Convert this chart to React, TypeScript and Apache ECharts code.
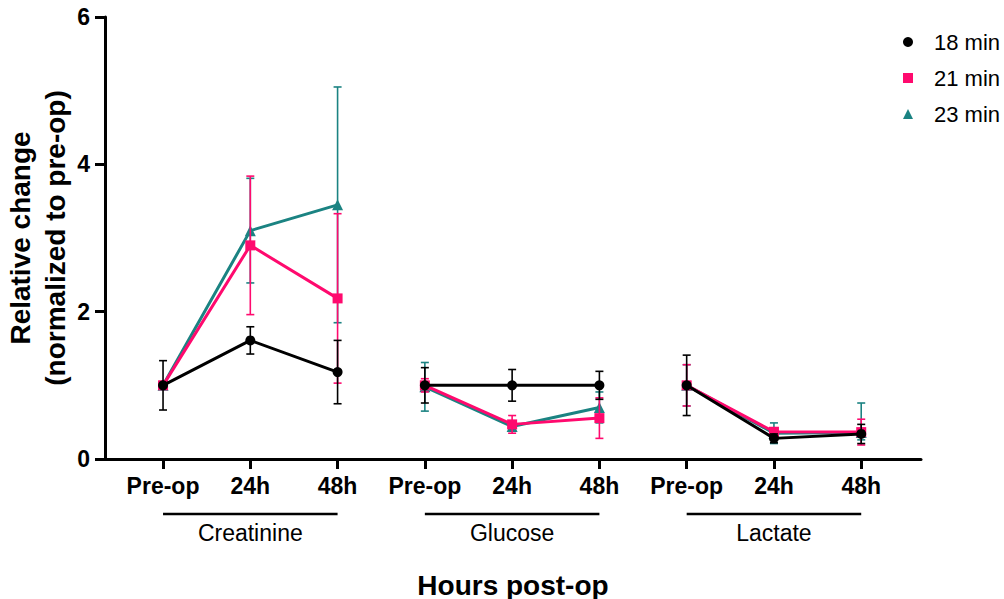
import React, { useEffect, useRef } from "react";
import * as echarts from "echarts";

const xPositions = [0, 1, 2, 3, 4, 5, 6, 7, 8];
const tickLabels = ["Pre-op", "24h", "48h", "Pre-op", "24h", "48h", "Pre-op", "24h", "48h"];
const groupNames = ["Creatinine", "Glucose", "Lactate"];
const groupStart = [0, 3, 6];
const groupEnd = [2, 5, 8];
const yTicks = [0, 2, 4, 6];

const seriesNames = ["18 min", "21 min", "23 min"];
const mean18 = [1.0, 1.61, 1.18, 1.0, 1.0, 1.0, 1.0, 0.28, 0.34];
const errUp18 = [0.335, 0.185, 0.43, 0.24, 0.215, 0.19, 0.41, 0.06, 0.13];
const errDown18 = [0.335, 0.185, 0.43, 0.24, 0.215, 0.19, 0.41, 0.06, 0.13];
const mean21 = [1.0, 2.9, 2.18, 1.0, 0.47, 0.555, 1.0, 0.37, 0.365];
const errUp21 = [0.05, 0.94, 1.15, 0.09, 0.12, 0.275, 0.28, 0.05, 0.175];
const errDown21 = [0.05, 0.94, 1.15, 0.09, 0.12, 0.275, 0.28, 0.05, 0.175];
const mean23 = [1.0, 3.1, 3.45, 0.98, 0.44, 0.7, 1.0, 0.35, 0.36];
const errUp23 = [0.05, 0.71, 1.6, 0.33, 0.05, 0.21, 0.28, 0.14, 0.4];
const errDown23 = [0.05, 0.71, 1.6, 0.33, 0.05, 0.21, 0.28, 0.14, 0.1];

const FONT = "'Liberation Sans', Arial, sans-serif";
const colors = ["#000000", "#FF0A6E", "#1B8382"];
const symbols = ["circle", "rect", "triangle"];
const means = [mean18, mean21, mean23];
const errUps = [errUp18, errUp21, errUp23];
const errDowns = [errDown18, errDown21, errDown23];
const zOrder = [5, 4, 3];

export default function App() {
  const ref = useRef<HTMLDivElement>(null);
  useEffect(() => {
    document.body.style.margin = "0";
    if (!ref.current) return;
    const chart = echarts.init(ref.current, null, { renderer: "svg" });

    const series: any[] = [];
    for (let s = 0; s < 3; s++) {
      series.push({
        type: "custom",
        name: seriesNames[s],
        z: zOrder[s],
        silent: true,
        clip: true,
        data: xPositions.map((x, i) => [x, means[s][i] - errDowns[s][i], means[s][i] + errUps[s][i]]),
        encode: { x: 0, y: [1, 2] },
        renderItem: (params: any, api: any) => {
          const x = api.value(0);
          const lo = api.coord([x, api.value(1)]);
          const hi = api.coord([x, api.value(2)]);
          const st = { stroke: colors[s], lineWidth: 1.6 };
          return {
            type: "group",
            children: [
              { type: "line", shape: { x1: lo[0], y1: lo[1], x2: hi[0], y2: hi[1] }, style: st },
              { type: "line", shape: { x1: hi[0] - 4, y1: hi[1], x2: hi[0] + 4, y2: hi[1] }, style: st },
              { type: "line", shape: { x1: lo[0] - 4, y1: lo[1], x2: lo[0] + 4, y2: lo[1] }, style: st },
            ],
          };
        },
      });
      for (let g = 0; g < 3; g++) {
        const pts: number[][] = [];
        for (let i = groupStart[g]; i <= groupEnd[g]; i++) pts.push([xPositions[i], means[s][i]]);
        series.push({
          type: "line",
          name: seriesNames[s],
          z: zOrder[s] + 0.5,
          data: pts,
          symbol: symbols[s],
          symbolSize: s === 2 ? 11 : 10,
          showSymbol: true,
          lineStyle: { color: colors[s], width: 3 },
          itemStyle: { color: colors[s] },
          emphasis: { disabled: true },
        });
      }
    }

    series.push({
      type: "custom",
      silent: true,
      clip: false,
      data: groupNames.map((n, g) => [groupStart[g], groupEnd[g], 0]),
      encode: { x: [0, 1], y: 2 },
      renderItem: (params: any, api: any) => {
        const a = api.coord([api.value(0), 0]);
        const b = api.coord([api.value(1), 0]);
        const y = a[1] + 55;
        return {
          type: "group",
          children: [
            { type: "line", shape: { x1: a[0], y1: y, x2: b[0], y2: y }, style: { stroke: "#000", lineWidth: 2.5 } },
            {
              type: "text",
              style: {
                text: groupNames[params.dataIndex],
                x: (a[0] + b[0]) / 2,
                y: y + 19,
                align: "center",
                verticalAlign: "middle",
                fontSize: 23,
                fontFamily: FONT,
                fill: "#000",
              },
            },
          ],
        };
      },
    });

    chart.setOption({
      animation: false,
      textStyle: { fontFamily: FONT },
      grid: { left: 105, right: 83, top: 17, bottom: 140, containLabel: false, outerBoundsMode: "none" },
      legend: {
        orient: "vertical",
        left: 898,
        top: 26,
        itemWidth: 10,
        itemHeight: 10,
        itemGap: 14,
        selectedMode: false,
        data: seriesNames.map((n, s) => ({ name: n, icon: symbols[s], itemStyle: { color: colors[s] } })),
        textStyle: { fontSize: 22, lineHeight: 22, color: "#000", fontFamily: FONT, padding: [0, 0, 0, 16] },
      },
      xAxis: {
        type: "value",
        min: -0.665,
        max: 8.685,
        name: "Hours post-op",
        nameLocation: "middle",
        nameGap: 112,
        nameMoveOverlap: false,
        nameTextStyle: { fontSize: 28, fontWeight: "bold", color: "#000", fontFamily: FONT },
        axisLine: { onZero: false, lineStyle: { color: "#000", width: 3 } },
        axisTick: { show: true, length: 10, lineStyle: { color: "#000", width: 3 }, customValues: xPositions },
        axisLabel: {
          customValues: xPositions,
          formatter: (v: number) => tickLabels[Math.round(v)] ?? "",
          fontSize: 23,
          fontWeight: "bold",
          color: "#000",
          margin: 15,
          fontFamily: FONT,
        },
        splitLine: { show: false },
      },
      yAxis: {
        type: "value",
        min: 0,
        max: 6,
        interval: 2,
        name: "Relative change\n(normalized to pre-op)",
        nameLocation: "middle",
        nameGap: 32,
        nameMoveOverlap: false,
        nameTextStyle: { fontSize: 28, fontWeight: "bold", color: "#000", lineHeight: 35, fontFamily: FONT },
        axisLine: { show: true, onZero: false, lineStyle: { color: "#000", width: 3 } },
        axisTick: { show: true, length: 10, lineStyle: { color: "#000", width: 3 } },
        axisLabel: {
          formatter: (v: number) => (yTicks.includes(v) ? String(v) : ""),
          fontSize: 23,
          fontWeight: "bold",
          color: "#000",
          margin: 15,
          fontFamily: FONT,
        },
        splitLine: { show: false },
      },
      series,
    });
    return () => chart.dispose();
  }, []);
  return <div ref={ref} style={{ width: 1004, height: 599 }} />;
}
